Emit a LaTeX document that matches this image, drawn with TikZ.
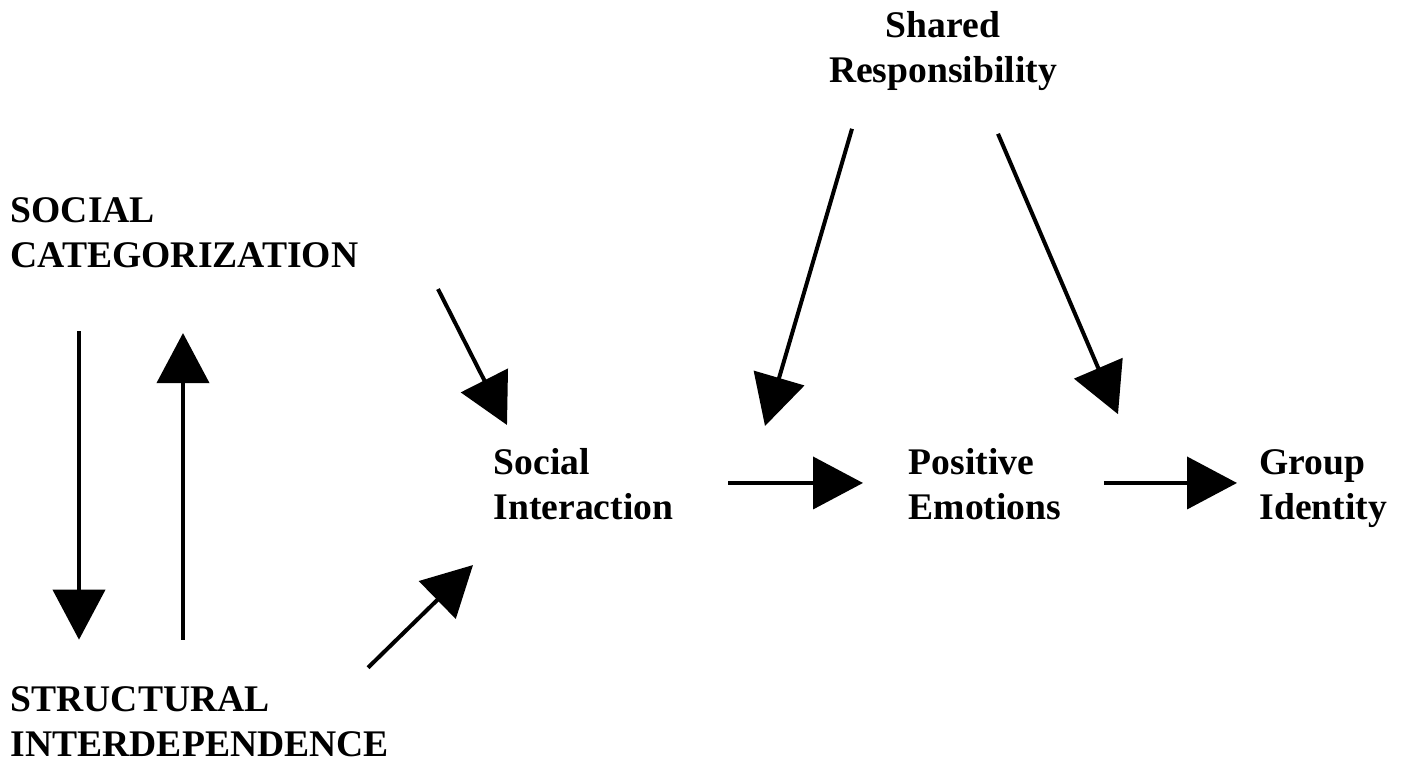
\documentclass[tikz,border=0pt]{standalone}
\usepackage{fontspec}
\setmainfont{Liberation Serif}
\usetikzlibrary{arrows.meta}
\begin{document}
\begin{tikzpicture}[
  concept/.style={inner sep=0pt, anchor=base west, align=left,
    font=\fontsize{10.7}{13}\selectfont\bfseries},
  arr/.style={line width=0.4mm, -{Triangle[length=5mm,width=5.2mm]}}
  ]
  \useasboundingbox (0,0) rectangle (14.11,7.66);

  %factors (placed by the baseline of their last line)
  \node[concept] (soccat) at (0.10,4.98) {SOCIAL\\CATEGORIZATION};
  \node[concept] (strint) at (0.10,0.09) {STRUCTURAL\\INTERDEPENDENCE};
  \node[concept, anchor=base, align=center] (shared) at (9.43,6.83) {Shared\\Responsibility};
  \node[concept] (socint) at (4.93,2.46) {Social\\Interaction};
  \node[concept] (posemo) at (9.08,2.46) {Positive\\Emotions};
  \node[concept] (grpid) at (12.59,2.46) {Group\\Identity};

  %left pair
  \draw[arr] ([xshift=6.9mm,yshift=-6.2mm]soccat.south west) -- ([xshift=6.9mm,yshift=4.6mm]strint.north west);
  \draw[arr] ([xshift=17.3mm,yshift=4.6mm]strint.north west) -- ([xshift=17.3mm,yshift=-6.4mm]soccat.south west);

  %into interaction
  \draw[arr] ([xshift=42.8mm,yshift=-2mm]soccat.south west) -- ([xshift=1.4mm,yshift=2.25mm]socint.north west);
  \draw[arr] ([xshift=35.8mm,yshift=1.8mm]strint.north west) -- ([xshift=-2mm,yshift=-4.4mm]socint.south west);

  %moderator
  \draw[arr] ([xshift=-9.1mm,yshift=-3.7mm]shared.south) -- ([xshift=-14.3mm,yshift=2.15mm]posemo.north west);
  \draw[arr] ([xshift=5.5mm,yshift=-4.2mm]shared.south) -- ([xshift=-14.1mm,yshift=3.45mm]grpid.north west);

  %main path
  \draw[arr] ([xshift=5.4mm,yshift=3.7mm]socint.base east) -- ([xshift=-4.5mm,yshift=3.7mm]posemo.base west);
  \draw[arr] ([xshift=4.2mm,yshift=3.7mm]posemo.base east) -- ([xshift=-2.2mm,yshift=3.7mm]grpid.base west);
\end{tikzpicture}
\end{document}
